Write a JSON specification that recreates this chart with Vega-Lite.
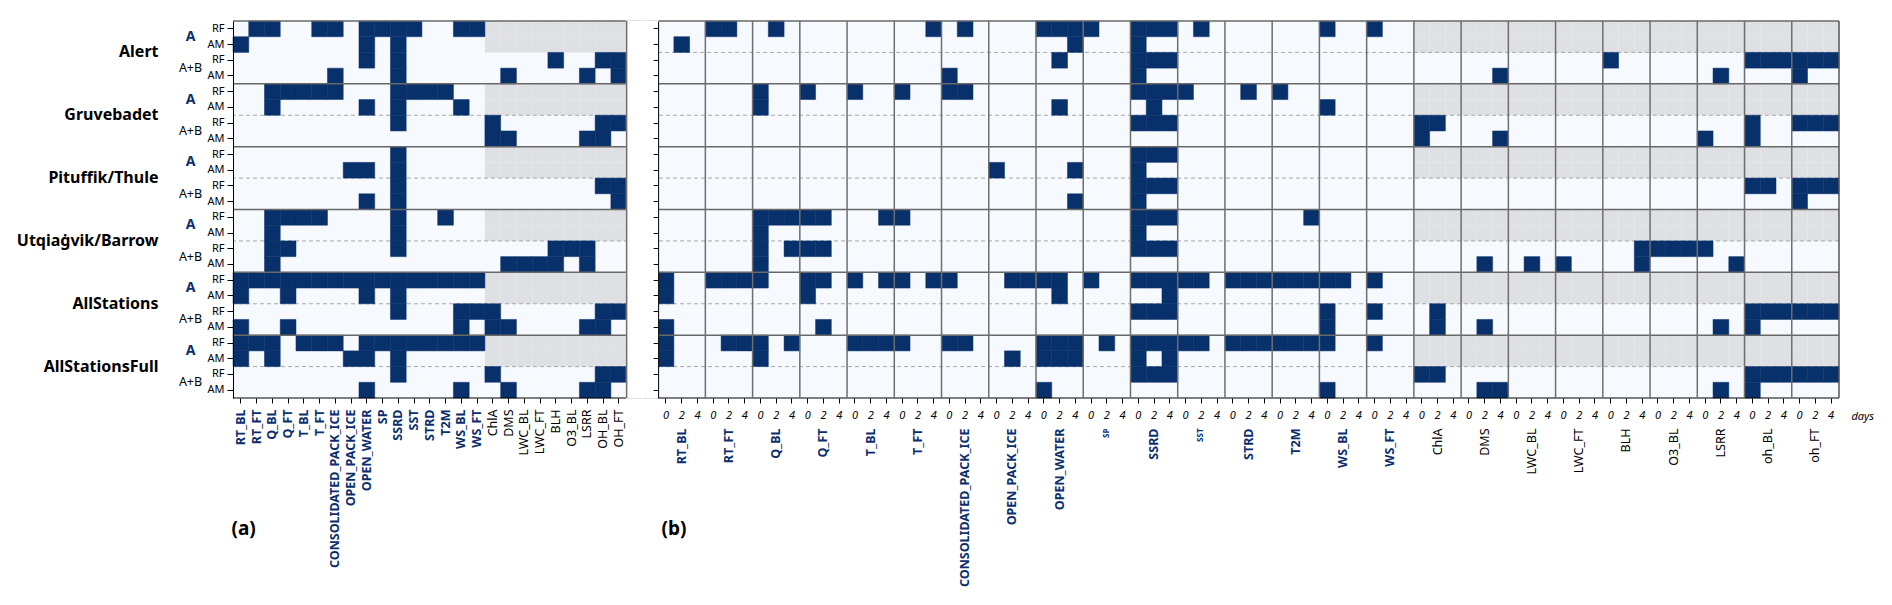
{
  "$schema": "https://vega.github.io/schema/vega-lite/v6.json",
  "background": "white",
  "padding": {"left": 16, "top": 20, "right": 5, "bottom": 0},
  "width": 1606,
  "height": 377,
  "config": {
    "font": "Noto Sans",
    "view": {"fill": "#f6f9fe", "stroke": null},
    "axis": {"domainColor": "#000", "tickColor": "#000", "labelColor": "#000", "labelFont": "Noto Sans", "titleFont": "Noto Sans", "labelLimit": 400}
  },
  "datasets": {
    "rows": [
      {"y": "Alert|A|RF", "a": ["RT_FT","Q_BL","T_FT","CONSOLIDATED_PACK_ICE","OPEN_WATER","SP","SSRD","SST","WS_BL","WS_FT"],
       "b": ["RT_FT|0","RT_FT|2","Q_BL|2","T_FT|4","CONSOLIDATED_PACK_ICE|2","OPEN_WATER|0","OPEN_WATER|2","OPEN_WATER|4","SP|0","SSRD|0","SSRD|2","SSRD|4","SST|2","WS_BL|0","WS_FT|0"]},
      {"y": "Alert|A|AM", "a": ["RT_BL","OPEN_WATER","SSRD"],
       "b": ["RT_BL|2","OPEN_WATER|4","SSRD|0"]},
      {"y": "Alert|A+B|RF", "a": ["OPEN_WATER","SSRD","BLH","OH_BL","OH_FT"],
       "b": ["OPEN_WATER|2","SSRD|0","SSRD|2","SSRD|4","BLH|0","OH_BL|0","OH_BL|2","OH_BL|4","OH_FT|0","OH_FT|2","OH_FT|4"]},
      {"y": "Alert|A+B|AM", "a": ["CONSOLIDATED_PACK_ICE","SSRD","DMS","LSRR","OH_FT"],
       "b": ["CONSOLIDATED_PACK_ICE|0","SSRD|0","DMS|4","LSRR|2","OH_FT|0"]},
      {"y": "Gruvebadet|A|RF", "a": ["Q_BL","Q_FT","T_BL","T_FT","CONSOLIDATED_PACK_ICE","SSRD","SST","STRD","T2M"],
       "b": ["Q_BL|0","Q_FT|0","T_BL|0","T_FT|0","CONSOLIDATED_PACK_ICE|0","CONSOLIDATED_PACK_ICE|2","SSRD|0","SSRD|2","SSRD|4","SST|0","STRD|2","T2M|0"]},
      {"y": "Gruvebadet|A|AM", "a": ["Q_BL","OPEN_WATER","SSRD","WS_BL"],
       "b": ["Q_BL|0","OPEN_WATER|2","SSRD|2","WS_BL|0"]},
      {"y": "Gruvebadet|A+B|RF", "a": ["SSRD","ChlA","OH_BL","OH_FT"],
       "b": ["SSRD|0","SSRD|2","SSRD|4","ChlA|0","ChlA|2","OH_BL|0","OH_FT|0","OH_FT|2","OH_FT|4"]},
      {"y": "Gruvebadet|A+B|AM", "a": ["ChlA","DMS","LSRR","OH_BL"],
       "b": ["ChlA|0","DMS|4","LSRR|0","OH_BL|0"]},
      {"y": "Pituffik/Thule|A|RF", "a": ["SSRD"],
       "b": ["SSRD|0","SSRD|2","SSRD|4"]},
      {"y": "Pituffik/Thule|A|AM", "a": ["OPEN_PACK_ICE","OPEN_WATER","SSRD"],
       "b": ["OPEN_PACK_ICE|0","OPEN_WATER|4","SSRD|0"]},
      {"y": "Pituffik/Thule|A+B|RF", "a": ["SSRD","OH_BL","OH_FT"],
       "b": ["SSRD|0","SSRD|2","SSRD|4","OH_BL|0","OH_BL|2","OH_FT|0","OH_FT|2","OH_FT|4"]},
      {"y": "Pituffik/Thule|A+B|AM", "a": ["OPEN_WATER","SSRD","OH_FT"],
       "b": ["OPEN_WATER|4","SSRD|0","OH_FT|0"]},
      {"y": "Utqiaġvik/Barrow|A|RF", "a": ["Q_BL","Q_FT","T_BL","T_FT","SSRD","T2M"],
       "b": ["Q_BL|0","Q_BL|2","Q_BL|4","Q_FT|0","Q_FT|2","T_BL|4","T_FT|0","SSRD|0","SSRD|2","SSRD|4","T2M|4"]},
      {"y": "Utqiaġvik/Barrow|A|AM", "a": ["Q_BL","SSRD"],
       "b": ["Q_BL|0","SSRD|0"]},
      {"y": "Utqiaġvik/Barrow|A+B|RF", "a": ["Q_BL","Q_FT","SSRD","BLH","O3_BL","LSRR"],
       "b": ["Q_BL|0","Q_BL|4","Q_FT|0","Q_FT|2","SSRD|0","SSRD|2","SSRD|4","BLH|4","O3_BL|0","O3_BL|2","O3_BL|4","LSRR|0"]},
      {"y": "Utqiaġvik/Barrow|A+B|AM", "a": ["Q_BL","DMS","LWC_BL","LWC_FT","BLH","LSRR"],
       "b": ["Q_BL|0","DMS|2","LWC_BL|2","LWC_FT|0","BLH|4","LSRR|4"]},
      {"y": "AllStations|A|RF", "a": ["RT_BL","RT_FT","Q_BL","Q_FT","T_BL","T_FT","CONSOLIDATED_PACK_ICE","OPEN_PACK_ICE","OPEN_WATER","SP","SSRD","SST","STRD","T2M","WS_BL","WS_FT"],
       "b": ["RT_BL|0","RT_FT|0","RT_FT|2","RT_FT|4","Q_BL|0","Q_FT|0","Q_FT|2","T_BL|0","T_BL|4","T_FT|0","T_FT|4","CONSOLIDATED_PACK_ICE|0","OPEN_PACK_ICE|2","OPEN_PACK_ICE|4","OPEN_WATER|0","OPEN_WATER|2","SP|0","SSRD|0","SSRD|2","SSRD|4","SST|0","SST|2","STRD|0","STRD|2","STRD|4","T2M|0","T2M|2","T2M|4","WS_BL|0","WS_BL|2","WS_FT|0"]},
      {"y": "AllStations|A|AM", "a": ["RT_BL","Q_FT","OPEN_WATER","SSRD"],
       "b": ["RT_BL|0","Q_FT|0","OPEN_WATER|2","SSRD|4"]},
      {"y": "AllStations|A+B|RF", "a": ["SSRD","WS_BL","WS_FT","ChlA","OH_BL","OH_FT"],
       "b": ["SSRD|0","SSRD|2","SSRD|4","WS_BL|0","WS_FT|0","ChlA|2","OH_BL|0","OH_BL|2","OH_BL|4","OH_FT|0","OH_FT|2","OH_FT|4"]},
      {"y": "AllStations|A+B|AM", "a": ["RT_BL","Q_FT","WS_BL","ChlA","DMS","LSRR","OH_BL"],
       "b": ["RT_BL|0","Q_FT|2","WS_BL|0","ChlA|2","DMS|2","LSRR|2","OH_BL|0"]},
      {"y": "AllStationsFull|A|RF", "a": ["RT_BL","RT_FT","Q_BL","T_BL","T_FT","CONSOLIDATED_PACK_ICE","OPEN_WATER","SP","SSRD","SST","STRD","T2M","WS_BL","WS_FT"],
       "b": ["RT_BL|0","RT_FT|2","RT_FT|4","Q_BL|0","Q_BL|4","T_BL|0","T_BL|2","T_BL|4","T_FT|0","CONSOLIDATED_PACK_ICE|0","CONSOLIDATED_PACK_ICE|2","OPEN_WATER|0","OPEN_WATER|2","OPEN_WATER|4","SP|2","SSRD|0","SSRD|2","SSRD|4","SST|0","SST|2","STRD|0","STRD|2","STRD|4","T2M|0","T2M|2","T2M|4","WS_BL|0","WS_FT|0"]},
      {"y": "AllStationsFull|A|AM", "a": ["RT_BL","Q_BL","OPEN_PACK_ICE","OPEN_WATER","SSRD"],
       "b": ["RT_BL|0","Q_BL|0","OPEN_PACK_ICE|2","OPEN_WATER|0","OPEN_WATER|2","OPEN_WATER|4","SSRD|0","SSRD|4"]},
      {"y": "AllStationsFull|A+B|RF", "a": ["SSRD","ChlA","OH_BL","OH_FT"],
       "b": ["SSRD|0","SSRD|2","SSRD|4","ChlA|0","ChlA|2","OH_BL|0","OH_BL|2","OH_BL|4","OH_FT|0","OH_FT|2","OH_FT|4"]},
      {"y": "AllStationsFull|A+B|AM", "a": ["OPEN_WATER","WS_BL","DMS","LSRR","OH_BL"],
       "b": ["OPEN_WATER|0","WS_BL|0","DMS|2","DMS|4","LSRR|2","OH_BL|0"]}
    ],
    "na": [{"xs": ["ChlA","DMS","LWC_BL","LWC_FT","BLH","O3_BL","LSRR","OH_BL","OH_FT","ChlA|0","ChlA|2","ChlA|4","DMS|0","DMS|2","DMS|4","LWC_BL|0","LWC_BL|2","LWC_BL|4","LWC_FT|0","LWC_FT|2","LWC_FT|4","BLH|0","BLH|2","BLH|4","O3_BL|0","O3_BL|2","O3_BL|4","LSRR|0","LSRR|2","LSRR|4","OH_BL|0","OH_BL|2","OH_BL|4","OH_FT|0","OH_FT|2","OH_FT|4"],
            "ys": ["Alert|A|RF","Alert|A|AM","Gruvebadet|A|RF","Gruvebadet|A|AM","Pituffik/Thule|A|RF","Pituffik/Thule|A|AM","Utqiaġvik/Barrow|A|RF","Utqiaġvik/Barrow|A|AM","AllStations|A|RF","AllStations|A|AM","AllStationsFull|A|RF","AllStationsFull|A|AM"]}],
    "hLines": [{"y": "Alert|A|RF"},{"y": "Gruvebadet|A|RF"},{"y": "Pituffik/Thule|A|RF"},{"y": "Utqiaġvik/Barrow|A|RF"},{"y": "AllStations|A|RF"},{"y": "AllStationsFull|A|RF"}],
    "bottomLine": [{"y": "AllStationsFull|A+B|AM"}],
    "dashed": [{"y": "Gruvebadet|A+B|RF"},{"y": "Pituffik/Thule|A+B|RF"},{"y": "Utqiaġvik/Barrow|A+B|RF"},{"y": "AllStations|A+B|RF"},{"y": "AllStationsFull|A+B|RF"}],
    "dashedB": [{"y": "Alert|A+B|RF"}],
    "gap": [{"k": "gap1"},{"k": "gap2"}],
    "vLines": [{"k":"gap1"},{"k":"RT_FT|0"},{"k":"Q_BL|0"},{"k":"Q_FT|0"},{"k":"T_BL|0"},{"k":"T_FT|0"},{"k":"CONSOLIDATED_PACK_ICE|0"},{"k":"OPEN_PACK_ICE|0"},{"k":"OPEN_WATER|0"},{"k":"SP|0"},{"k":"SSRD|0"},{"k":"SST|0"},{"k":"STRD|0"},{"k":"T2M|0"},{"k":"WS_BL|0"},{"k":"WS_FT|0"},{"k":"ChlA|0"},{"k":"DMS|0"},{"k":"LWC_BL|0"},{"k":"LWC_FT|0"},{"k":"BLH|0"},{"k":"O3_BL|0"},{"k":"LSRR|0"},{"k":"OH_BL|0"},{"k":"OH_FT|0"}],
    "rightLine": [{"k": "OH_FT|4"}]
  },
  "resolve": {"axis": {"x": "independent", "y": "independent"}},
  "layer": [
    {
      "data": {"name": "na"},
      "transform": [{"flatten": ["xs"], "as": ["k"]}, {"flatten": ["ys"], "as": ["y"]}],
      "mark": {"type": "rect", "fill": "#dfe0e4"},
      "encoding": {
        "x": {"field": "k", "type": "nominal",
          "scale": {"domain": ["RT_BL","RT_FT","Q_BL","Q_FT","T_BL","T_FT","CONSOLIDATED_PACK_ICE","OPEN_PACK_ICE","OPEN_WATER","SP","SSRD","SST","STRD","T2M","WS_BL","WS_FT","ChlA","DMS","LWC_BL","LWC_FT","BLH","O3_BL","LSRR","OH_BL","OH_FT","gap1","gap2","RT_BL|0","RT_BL|2","RT_BL|4","RT_FT|0","RT_FT|2","RT_FT|4","Q_BL|0","Q_BL|2","Q_BL|4","Q_FT|0","Q_FT|2","Q_FT|4","T_BL|0","T_BL|2","T_BL|4","T_FT|0","T_FT|2","T_FT|4","CONSOLIDATED_PACK_ICE|0","CONSOLIDATED_PACK_ICE|2","CONSOLIDATED_PACK_ICE|4","OPEN_PACK_ICE|0","OPEN_PACK_ICE|2","OPEN_PACK_ICE|4","OPEN_WATER|0","OPEN_WATER|2","OPEN_WATER|4","SP|0","SP|2","SP|4","SSRD|0","SSRD|2","SSRD|4","SST|0","SST|2","SST|4","STRD|0","STRD|2","STRD|4","T2M|0","T2M|2","T2M|4","WS_BL|0","WS_BL|2","WS_BL|4","WS_FT|0","WS_FT|2","WS_FT|4","ChlA|0","ChlA|2","ChlA|4","DMS|0","DMS|2","DMS|4","LWC_BL|0","LWC_BL|2","LWC_BL|4","LWC_FT|0","LWC_FT|2","LWC_FT|4","BLH|0","BLH|2","BLH|4","O3_BL|0","O3_BL|2","O3_BL|4","LSRR|0","LSRR|2","LSRR|4","OH_BL|0","OH_BL|2","OH_BL|4","OH_FT|0","OH_FT|2","OH_FT|4"], "paddingInner": 0, "paddingOuter": 0},
          "axis": {"orient": "bottom", "domain": false, "labelAngle": -90, "labelFontSize": 12.5, "tickSize": 5, "labelPadding": 6,
            "values": ["RT_BL","RT_FT","Q_BL","Q_FT","T_BL","T_FT","CONSOLIDATED_PACK_ICE","OPEN_PACK_ICE","OPEN_WATER","SP","SSRD","SST","STRD","T2M","WS_BL","WS_FT","ChlA","DMS","LWC_BL","LWC_FT","BLH","O3_BL","LSRR","OH_BL","OH_FT"],
            "labelColor": {"condition": {"test": "indexof(['ChlA','DMS','LWC_BL','LWC_FT','BLH','O3_BL','LSRR','OH_BL','OH_FT'], datum.value) < 0", "value": "#0b2f6e"}, "value": "#000"},
            "labelFontWeight": {"condition": {"test": "indexof(['ChlA','DMS','LWC_BL','LWC_FT','BLH','O3_BL','LSRR','OH_BL','OH_FT'], datum.value) < 0", "value": "bold"}, "value": "normal"},
            "title": "(a)", "titleAngle": 0, "titleAlign": "left", "titleBaseline": "middle", "titleX": -2, "titleY": 130, "titleFontSize": 19, "titleFontWeight": "bold"}},
        "y": {"field": "y", "type": "nominal",
          "scale": {"domain": ["Alert|A|RF","Alert|A|AM","Alert|A+B|RF","Alert|A+B|AM","Gruvebadet|A|RF","Gruvebadet|A|AM","Gruvebadet|A+B|RF","Gruvebadet|A+B|AM","Pituffik/Thule|A|RF","Pituffik/Thule|A|AM","Pituffik/Thule|A+B|RF","Pituffik/Thule|A+B|AM","Utqiaġvik/Barrow|A|RF","Utqiaġvik/Barrow|A|AM","Utqiaġvik/Barrow|A+B|RF","Utqiaġvik/Barrow|A+B|AM","AllStations|A|RF","AllStations|A|AM","AllStations|A+B|RF","AllStations|A+B|AM","AllStationsFull|A|RF","AllStationsFull|A|AM","AllStationsFull|A+B|RF","AllStationsFull|A+B|AM"], "paddingInner": 0, "paddingOuter": 0},
          "axis": {"orient": "left", "title": null, "tickSize": 6, "labelPadding": 3, "labelFontSize": 11, "zindex": 1, "labelExpr": "split(datum.value, '|')[2]"}}
      }
    },
    {
      "data": {"name": "dashed"},
      "mark": {"type": "rule", "stroke": "#a8a8a8", "strokeWidth": 1, "strokeDash": [4, 3]},
      "encoding": {
        "y": {"field": "y", "type": "nominal", "bandPosition": 0,
          "axis": {"orient": "left", "offset": 30, "domain": false, "ticks": false, "tickSize": 0, "labelPadding": 13, "labelAlign": "center", "labelOffset": -7.85, "title": null,
            "values": ["Alert|A|AM","Alert|A+B|AM","Gruvebadet|A|AM","Gruvebadet|A+B|AM","Pituffik/Thule|A|AM","Pituffik/Thule|A+B|AM","Utqiaġvik/Barrow|A|AM","Utqiaġvik/Barrow|A+B|AM","AllStations|A|AM","AllStations|A+B|AM","AllStationsFull|A|AM","AllStationsFull|A+B|AM"],
            "labelExpr": "split(datum.value, '|')[1]",
            "labelFontSize": {"condition": {"test": "split(datum.value, '|')[1] == 'A'", "value": 14}, "value": 12.5},
            "labelFontWeight": {"condition": {"test": "split(datum.value, '|')[1] == 'A'", "value": "bold"}, "value": "normal"},
            "labelColor": {"condition": {"test": "split(datum.value, '|')[1] == 'A'", "value": "#0b2f6e"}, "value": "#000"}}}
      }
    },
    {
      "data": {"name": "dashedB"},
      "mark": {"type": "rule", "stroke": "#a8a8a8", "strokeWidth": 1, "strokeDash": [4, 3]},
      "encoding": {
        "y": {"field": "y", "type": "nominal", "bandPosition": 0, "axis": null},
        "x": {"datum": "RT_BL|0", "type": "nominal", "bandPosition": 0, "axis": null},
        "x2": {"datum": "OH_FT|4", "bandPosition": 1}
      }
    },
    {
      "data": {"name": "rows"},
      "transform": [{"flatten": ["a"], "as": ["k"]}],
      "mark": {"type": "rect", "fill": "#08306b", "stroke": "#08306b", "strokeWidth": 0.5},
      "encoding": {
        "x": {"field": "k", "type": "nominal", "axis": null},
        "y": {"field": "y", "type": "nominal", "axis": null}
      }
    },
    {
      "data": {"name": "rows"},
      "transform": [{"flatten": ["b"], "as": ["k"]}],
      "mark": {"type": "rect", "fill": "#08306b", "stroke": "#08306b", "strokeWidth": 0.5},
      "encoding": {
        "x": {"field": "k", "type": "nominal",
          "axis": {"orient": "bottom", "domain": false, "labelAngle": 0, "labelExpr": "split(datum.value, '|')[1]", "labelFontStyle": "italic", "labelFontSize": 11, "tickSize": 5, "labelPadding": 6,
            "values": ["RT_BL|0","RT_BL|2","RT_BL|4","RT_FT|0","RT_FT|2","RT_FT|4","Q_BL|0","Q_BL|2","Q_BL|4","Q_FT|0","Q_FT|2","Q_FT|4","T_BL|0","T_BL|2","T_BL|4","T_FT|0","T_FT|2","T_FT|4","CONSOLIDATED_PACK_ICE|0","CONSOLIDATED_PACK_ICE|2","CONSOLIDATED_PACK_ICE|4","OPEN_PACK_ICE|0","OPEN_PACK_ICE|2","OPEN_PACK_ICE|4","OPEN_WATER|0","OPEN_WATER|2","OPEN_WATER|4","SP|0","SP|2","SP|4","SSRD|0","SSRD|2","SSRD|4","SST|0","SST|2","SST|4","STRD|0","STRD|2","STRD|4","T2M|0","T2M|2","T2M|4","WS_BL|0","WS_BL|2","WS_BL|4","WS_FT|0","WS_FT|2","WS_FT|4","ChlA|0","ChlA|2","ChlA|4","DMS|0","DMS|2","DMS|4","LWC_BL|0","LWC_BL|2","LWC_BL|4","LWC_FT|0","LWC_FT|2","LWC_FT|4","BLH|0","BLH|2","BLH|4","O3_BL|0","O3_BL|2","O3_BL|4","LSRR|0","LSRR|2","LSRR|4","OH_BL|0","OH_BL|2","OH_BL|4","OH_FT|0","OH_FT|2","OH_FT|4"],
            "title": "days", "titleFontStyle": "italic", "titleFontWeight": "normal", "titleFontSize": 11, "titleAngle": 0, "titleAlign": "left", "titleBaseline": "top", "titleX": 1618, "titleY": 12}},
        "y": {"field": "y", "type": "nominal", "axis": null}
      }
    },
    {
      "data": {"name": "hLines"},
      "mark": {"type": "rule", "stroke": "#686868", "strokeWidth": 1.5},
      "encoding": {
        "y": {"field": "y", "type": "nominal", "bandPosition": 0,
          "axis": {"orient": "left", "offset": 70, "domain": false, "ticks": false, "tickSize": 0, "labelPadding": 5, "labelFontSize": 16, "labelFontWeight": "bold", "labelOffset": -7.85, "title": null,
            "values": ["Alert|A+B|RF","Gruvebadet|A+B|RF","Pituffik/Thule|A+B|RF","Utqiaġvik/Barrow|A+B|RF","AllStations|A+B|RF","AllStationsFull|A+B|RF"],
            "labelExpr": "split(datum.value, '|')[0]"}}
      }
    },
    {
      "data": {"name": "bottomLine"},
      "mark": {"type": "rule", "stroke": "#000", "strokeWidth": 1.2},
      "encoding": {
        "y": {"field": "y", "type": "nominal", "bandPosition": 1,
          "axis": {"orient": "left", "offset": -425.1, "labels": false, "tickSize": 5, "title": null, "zindex": 1}}
      }
    },
    {
      "data": {"name": "gap"},
      "mark": {"type": "rect", "fill": "white", "stroke": "white", "strokeWidth": 1.5},
      "encoding": {
        "x": {"field": "k", "type": "nominal",
          "axis": {"orient": "bottom", "offset": 20, "domain": false, "ticks": false, "tickSize": 0, "labelPadding": 10, "labelAngle": -90,
            "values": ["RT_BL|2","RT_FT|2","Q_BL|2","Q_FT|2","T_BL|2","T_FT|2","CONSOLIDATED_PACK_ICE|2","OPEN_PACK_ICE|2","OPEN_WATER|2","SP|2","SSRD|2","SST|2","STRD|2","T2M|2","WS_BL|2","WS_FT|2","ChlA|2","DMS|2","LWC_BL|2","LWC_FT|2","BLH|2","O3_BL|2","LSRR|2","OH_BL|2","OH_FT|2"],
            "labelExpr": "replace(split(datum.value, '|')[0], 'OH_', 'oh_')",
            "labelFontSize": {"condition": {"test": "split(datum.value, '|')[0] == 'SP' || split(datum.value, '|')[0] == 'SST'", "value": 8}, "value": 12.5},
            "labelColor": {"condition": {"test": "indexof(['ChlA','DMS','LWC_BL','LWC_FT','BLH','O3_BL','LSRR','OH_BL','OH_FT'], split(datum.value, '|')[0]) < 0", "value": "#0b2f6e"}, "value": "#000"},
            "labelFontWeight": {"condition": {"test": "indexof(['ChlA','DMS','LWC_BL','LWC_FT','BLH','O3_BL','LSRR','OH_BL','OH_FT'], split(datum.value, '|')[0]) < 0", "value": "bold"}, "value": "normal"},
            "title": "(b)", "titleAngle": 0, "titleAlign": "left", "titleBaseline": "middle", "titleX": 428, "titleY": 110, "titleFontSize": 19, "titleFontWeight": "bold"}}
      }
    },
    {
      "data": {"name": "vLines"},
      "mark": {"type": "rule", "stroke": "#6e6e6e", "strokeWidth": 1.5},
      "encoding": {
        "x": {"field": "k", "type": "nominal", "bandPosition": 0, "axis": null}
      }
    },
    {
      "data": {"name": "rightLine"},
      "mark": {"type": "rule", "stroke": "#555", "strokeWidth": 1.5},
      "encoding": {
        "x": {"field": "k", "type": "nominal", "bandPosition": 1, "axis": null}
      }
    }
  ]
}
